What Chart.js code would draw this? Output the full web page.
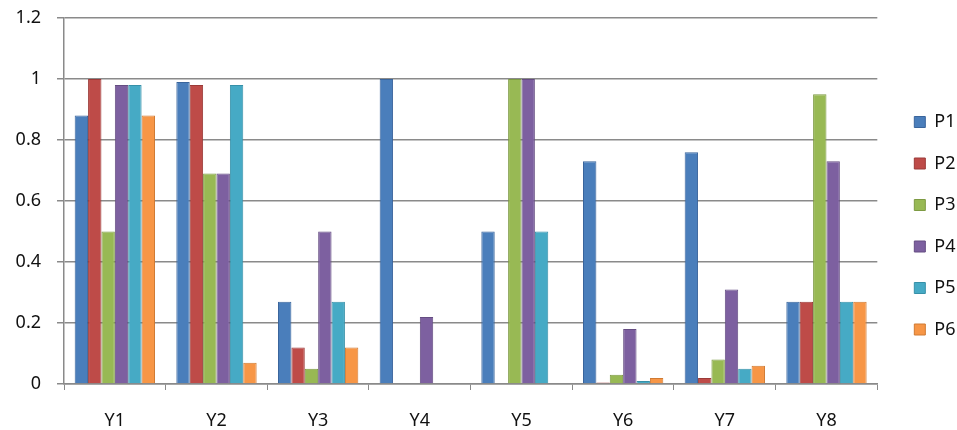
<!DOCTYPE html>
<html>
<head>
<meta charset="utf-8">
<script src="https://cdn.jsdelivr.net/npm/chart.js@4/dist/chart.umd.min.js"></script>
<style>
  html, body { margin: 0; padding: 0; background: #fff; }
  #wrap { width: 957px; height: 430px; }
</style>
</head>
<body>
<div id="wrap"><canvas id="chart"></canvas></div>
<script>
"use strict";

const categories = ["Y1", "Y2", "Y3", "Y4", "Y5", "Y6", "Y7", "Y8"];
const seriesNames = ["P1", "P2", "P3", "P4", "P5", "P6"];

const p1 = [0.88, 0.99, 0.27, 1.00, 0.50, 0.73, 0.76, 0.27];
const p2 = [1.00, 0.98, 0.12, 0.00, 0.00, 0.005, 0.02, 0.27];
const p3 = [0.50, 0.69, 0.05, 0.00, 1.00, 0.03, 0.08, 0.95];
const p4 = [0.98, 0.69, 0.50, 0.22, 1.00, 0.18, 0.31, 0.73];
const p5 = [0.98, 0.98, 0.27, 0.00, 0.50, 0.01, 0.05, 0.27];
const p6 = [0.88, 0.07, 0.12, 0.00, 0.00, 0.02, 0.06, 0.27];

const yMin = 0, yMax = 1.2, yStep = 0.2;

const fills = ["#4a7ebb", "#be4b48", "#98b954", "#7d60a0", "#46aac5", "#f79646"];
const edges = ["#3a659c", "#9b3a38", "#7d9a43", "#654d82", "#3690a8", "#d07a32"];

const FONT = "'Noto Sans', 'Open Sans', sans-serif";
const TEXT = "#111";
const GRID = "#8a8a8a";

const values = [p1, p2, p3, p4, p5, p6];
const datasets = seriesNames.map((name, i) => ({
    label: name,
    data: values[i],
    backgroundColor: fills[i],
    borderColor: edges[i],
    borderWidth: 1,
    categoryPercentage: 0.79,
    barPercentage: 1.0
}));

new Chart(document.getElementById("chart"), {
    type: "bar",
    data: { labels: categories, datasets: datasets },
    options: {
        responsive: true,
        maintainAspectRatio: false,
        animation: false,
        layout: { padding: { top: 18, right: -8.5, bottom: 0, left: 0 } },
        plugins: {
            tooltip: { enabled: false },
            legend: {
                position: "right",
                // empty title only pushes the items down a little
                title: { display: true, text: "", font: { size: 2 }, padding: { top: 1.1, bottom: 0 } },
                labels: {
                    color: TEXT,
                    font: { family: FONT, size: 18 },
                    boxWidth: 11,
                    boxHeight: 11,
                    padding: 23.5
                }
            }
        },
        scales: {
            x: {
                offset: true,
                grid: { display: true, drawOnChartArea: false, drawTicks: true, tickLength: 6, color: GRID, offset: true },
                border: { display: true, color: GRID, width: 1.5 },
                ticks: { color: TEXT, font: { family: FONT, size: 18 }, padding: 20 },
                afterFit: s => { s.height = 46; }
            },
            y: {
                min: yMin,
                max: yMax,
                ticks: {
                    stepSize: yStep,
                    color: TEXT,
                    font: { family: FONT, size: 18 },
                    padding: 16,
                    callback: v => Math.round(v * 10) / 10
                },
                grid: { color: GRID, lineWidth: 1.5, tickLength: 7 },
                border: { display: true, color: GRID, width: 1.5 },
                afterFit: s => { s.width = 64; s.paddingTop = 0; s.paddingBottom = 0; }
            },
            // blank spacer between plot and legend
            gap: {
                position: "right",
                min: yMin,
                max: yMax,
                ticks: { display: false },
                grid: { display: false },
                border: { display: false },
                afterFit: s => { s.width = 13.5; }
            }
        }
    }
});
</script>
</body>
</html>
